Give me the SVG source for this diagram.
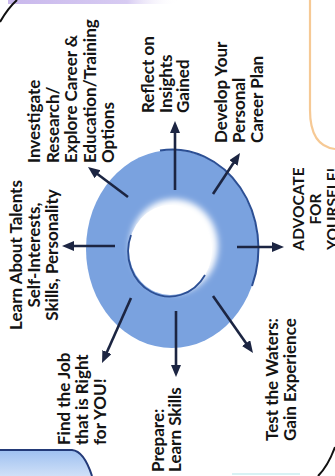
<svg xmlns="http://www.w3.org/2000/svg" width="335" height="476" viewBox="0 0 335 476">
<style>
.lbl{font-family:Lato,"Open Sans","Liberation Sans",sans-serif;font-weight:700;font-size:17px;fill:#141414}
.caps{font-size:15.5px}
.arr{stroke:#1c2542;stroke-width:2.6;fill:none;marker-end:url(#ah)}
</style>
<defs>
<marker id="ah" markerUnits="userSpaceOnUse" markerWidth="13" markerHeight="11" refX="4" refY="5" orient="auto">
<path d="M0,0 L12,5 L0,10 z" fill="#1c2542"/>
</marker>
<linearGradient id="lav" x1="0" y1="0" x2="1" y2="0">
<stop offset="0" stop-color="#c9b8ec"/>
<stop offset="0.7" stop-color="#d7cbf2"/>
<stop offset="1" stop-color="#ffffff" stop-opacity="0"/>
</linearGradient>
<linearGradient id="blu" x1="0" y1="0" x2="0" y2="1">
<stop offset="0" stop-color="#9ec0f0"/>
<stop offset="1" stop-color="#cfe0f8"/>
</linearGradient>
<filter id="blur" x="-30%" y="-30%" width="160%" height="160%">
<feGaussianBlur stdDeviation="3"/>
</filter>
</defs>
<rect width="335" height="476" fill="#ffffff"/>
<g id="background">
<rect x="8" y="0" width="170" height="4" fill="url(#lav)"/>
<path d="M0,22 Q8,8 17,0" stroke="#111" stroke-width="2" fill="none"/>
<path d="M310,0 L310,110 Q310,146 335,149" stroke="#f6c995" stroke-width="2.2" fill="none"/>
<path d="M0,450 L72,450 Q84,451 92,476 L0,476 z" fill="url(#blu)"/>
<path d="M0,450 L72,450 Q84,451 92,476" stroke="#233a78" stroke-width="2" fill="none"/>
<path d="M335,447 Q328,466 318,476" stroke="#111" stroke-width="2" fill="none"/>
<line x1="232" y1="474" x2="300" y2="474" stroke="#d8f2f4" stroke-width="2"/>
</g>
<g id="ring">
<ellipse cx="172" cy="249" rx="86" ry="99" fill="#7aa2df"/>
<path d="M160,150.5 A86,99 0 0 1 252,286" stroke="#2c4f94" stroke-width="2" fill="none"/>
<ellipse cx="174" cy="246" rx="44" ry="47" fill="#ffffff" filter="url(#blur)"/>
<ellipse cx="170.5" cy="250" rx="41.5" ry="45" fill="#ffffff"/>
<path d="M131,235 A41.5,45 0 0 0 205,275" stroke="#2c4f94" stroke-width="1.8" fill="none"/>
</g>
<g id="connectors">
<line class="arr" x1="175" y1="190" x2="175" y2="129"/>
<line class="arr" x1="213" y1="194" x2="235.6" y2="159.7"/>
<line class="arr" x1="237" y1="247" x2="276" y2="247"/>
<line class="arr" x1="213" y1="296" x2="248.4" y2="346.4"/>
<line class="arr" x1="176" y1="311" x2="176" y2="369"/>
<line class="arr" x1="131" y1="298" x2="105.3" y2="355.7"/>
<line class="arr" x1="115" y1="246" x2="70" y2="246"/>
<line class="arr" x1="128" y1="197" x2="94.4" y2="171.8"/>
</g>
<g id="investigate">
<text class="lbl" transform="translate(40,163) rotate(-90)"><tspan x="0" y="0">Investigate</tspan><tspan x="0" dy="18.5">Research/</tspan><tspan x="0" dy="18.5">Explore Career &amp;</tspan><tspan x="0" dy="18.5">Education/Training</tspan><tspan x="0" dy="18.5">Options</tspan></text>
</g>
<g id="reflect">
<text class="lbl" transform="translate(154,113) rotate(-90)"><tspan x="0" y="0">Reflect on</tspan><tspan x="0" dy="17.5">Insights</tspan><tspan x="0" dy="17.5">Gained</tspan></text>
</g>
<g id="develop">
<text class="lbl" transform="translate(227,143) rotate(-90)"><tspan x="0" y="0">Develop Your</tspan><tspan x="0" dy="18">Personal</tspan><tspan x="0" dy="18">Career Plan</tspan></text>
</g>
<g id="advocate">
<text class="lbl caps" text-anchor="middle" transform="translate(304,209) rotate(-90)"><tspan x="0" y="0">ADVOCATE</tspan><tspan x="0" dy="17">FOR</tspan><tspan x="0" dy="17">YOURSELF!</tspan></text>
</g>
<g id="test">
<text class="lbl" transform="translate(278,441) rotate(-90)"><tspan x="0" y="0">Test the Waters:</tspan><tspan x="0" dy="18">Gain Experience</tspan></text>
</g>
<g id="prepare">
<text class="lbl" transform="translate(164,472) rotate(-90)"><tspan x="0" y="0">Prepare:</tspan><tspan x="0" dy="17">Learn Skills</tspan></text>
</g>
<g id="findjob">
<text class="lbl" transform="translate(70,445) rotate(-90)"><tspan x="0" y="0">Find the Job</tspan><tspan x="0" dy="18">that is Right</tspan><tspan x="0" dy="18">for YOU!</tspan></text>
</g>
<g id="learn">
<text class="lbl" text-anchor="middle" transform="translate(22,255) rotate(-90)"><tspan x="0" y="0">Learn About Talents</tspan><tspan x="0" dy="18">Self-Interests,</tspan><tspan x="0" dy="18">Skills, Personality</tspan></text>
</g>
</svg>
